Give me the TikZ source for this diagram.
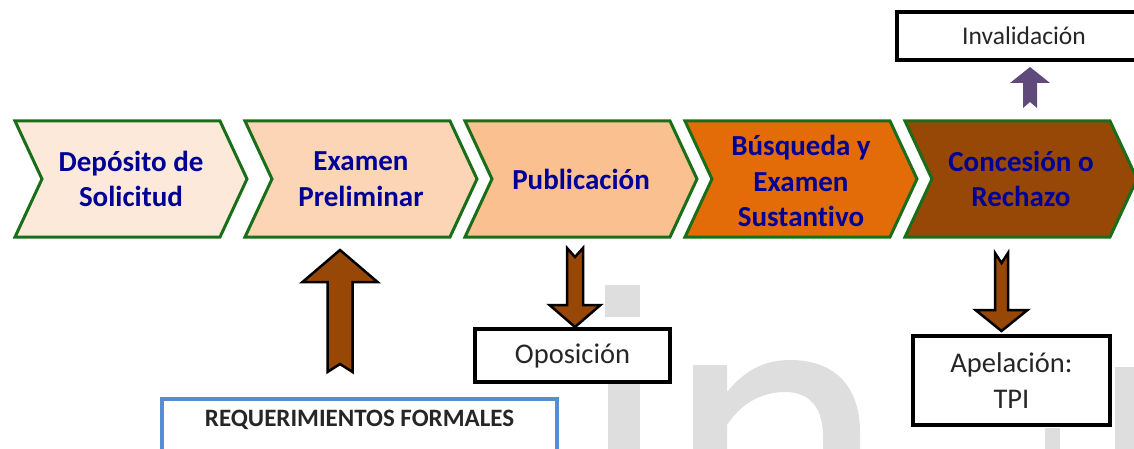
\documentclass[tikz,border=0pt]{standalone}
\usepackage{fontspec}
\setmainfont{Carlito}[Ligatures=NoCommon]
\usetikzlibrary{positioning}
\usetikzlibrary{calc}

\definecolor{stepgreen}{RGB}{25,110,25}
\definecolor{stepblue}{RGB}{0,0,150}
\definecolor{peachA}{RGB}{253,233,217}
\definecolor{peachB}{RGB}{251,213,181}
\definecolor{peachC}{RGB}{250,192,144}
\definecolor{orangeD}{RGB}{227,108,9}
\definecolor{brownE}{RGB}{151,72,6}
\definecolor{arrowpurple}{RGB}{96,74,123}
\definecolor{reqblue}{RGB}{85,142,213}
\definecolor{markgray}{RGB}{222,222,222}

\tikzset{
  chevron/.style={draw=stepgreen, line width=3pt, line join=miter},
  steptext/.style={text=stepblue, font=\fontsize{29}{35.5}\selectfont\bfseries, align=center},
  outbox/.style={draw, line width=3.5pt, fill=white, text=black!85, font=\fontsize{28.5}{36}\selectfont, align=center},
  reqbox/.style={draw=reqblue, line width=3.5pt, text=black!85, font=\fontsize{25}{28}\selectfont\bfseries, inner sep=0pt},
  fatbrown/.style={fill=brownE, draw=black, line width=2.5pt, line join=miter},
  fatpurple/.style={fill=arrowpurple},
}

% one step of the process, #1 = left x, #2 = fill
\newcommand{\chev}[2]{%
  \draw[chevron, fill=#2] (#1,121) -- ++(205,0) -- ++(27,58) -- ++(-27,58) -- ++(-205,0) -- ++(27,-58) -- cycle;}

% block arrow with notched tail, vertical, from #2 (tail) to #3 (tip)
\newcommand{\fatarrow}[7]{%
  \path[#1] let \p1=(#2), \p2=(#3), \n1={sign(\y2-\y1)} in
    ({\x1-#4},\y1) -- ({\x2-#4},{\y2-(\n1)*#6}) -- ({\x2-#5},{\y2-(\n1)*#6}) -- (\x2,\y2)
    -- ({\x2+#5},{\y2-(\n1)*#6}) -- ({\x2+#4},{\y2-(\n1)*#6}) -- ({\x1+#4},\y1)
    -- (\x1,{\y1+(\n1)*#7}) -- cycle;}

\begin{document}
\begin{tikzpicture}[x=1pt, y=-1pt]
\useasboundingbox (0,0) rectangle (1134,449);

% watermark in the background
\fill[markgray] (605,285) rectangle (640,317);
\fill[markgray] (608,383) rectangle (640,449);
\fill[markgray] (693,449) -- (693,365) -- (727,365) -- (727,392)
  .. controls (745,370) and (765,360) .. (790,360)
  .. controls (838,360) and (860,390) .. (860,432) -- (860,449) -- (823,449) -- (823,436)
  .. controls (823,408) and (810,392) .. (785,392)
  .. controls (760,392) and (740,405) .. (727,425) -- (727,449) -- cycle;
\fill[markgray] (1045,428) rectangle (1060,449);
\fill[markgray] (1115,367) rectangle (1134,449);

% steps
\chev{15}{peachA}
\chev{245}{peachB}
\chev{465}{peachC}
\chev{685}{orangeD}
\chev{905}{brownE}

\node (dep) at (131,179) [steptext] {Depósito de\\Solicitud};
\node (exa) at (361,179) [steptext] {Examen\\Preliminar};
\node (pub) at (581,179) [steptext] {Publicación};
\node (bus) at (801,181) [steptext] {Búsqueda y\\Examen\\Sustantivo};
\node (con) at (1021,179) [steptext] {Concesión o\\Rechazo};

% boxes
\node (inv) at (1024,36) [outbox, minimum width=254, minimum height=48, font=\fontsize{25.5}{30}\selectfont] {Invalidación};
\node (opo) at (572.5,355.5) [outbox, minimum width=195, minimum height=53] {Oposición};
\node (ape) at (1011.5,380.5) [outbox, minimum width=197, minimum height=89] {Apelación:\\TPI};
\node (req) at (359.5,397) [reqbox, anchor=north, minimum width=395, text height=28, text depth=40] {REQUERIMIENTOS FORMALES};

% arrows
\coordinate (reqtail) at (340,372);
\coordinate (reqtip) at (340,250);
\coordinate (opotail) at (575,248);
\coordinate (opotip) at (575,327);
\coordinate (apetail) at (1001.5,253);
\coordinate (apetip) at (1001.5,331);
\coordinate (invtail) at (1030,108);
\coordinate (invtip) at (1030,67);

\fatarrow{fatbrown}{reqtail}{reqtip}{12.5pt}{37.5pt}{32pt}{8pt}
\fatarrow{fatbrown}{opotail}{opotip}{8pt}{25.5pt}{22pt}{9pt}
\fatarrow{fatbrown}{apetail}{apetip}{6.5pt}{26pt}{21pt}{10pt}
\fatarrow{fatpurple}{invtail}{invtip}{7pt}{20pt}{16pt}{6pt}
\end{tikzpicture}
\end{document}
